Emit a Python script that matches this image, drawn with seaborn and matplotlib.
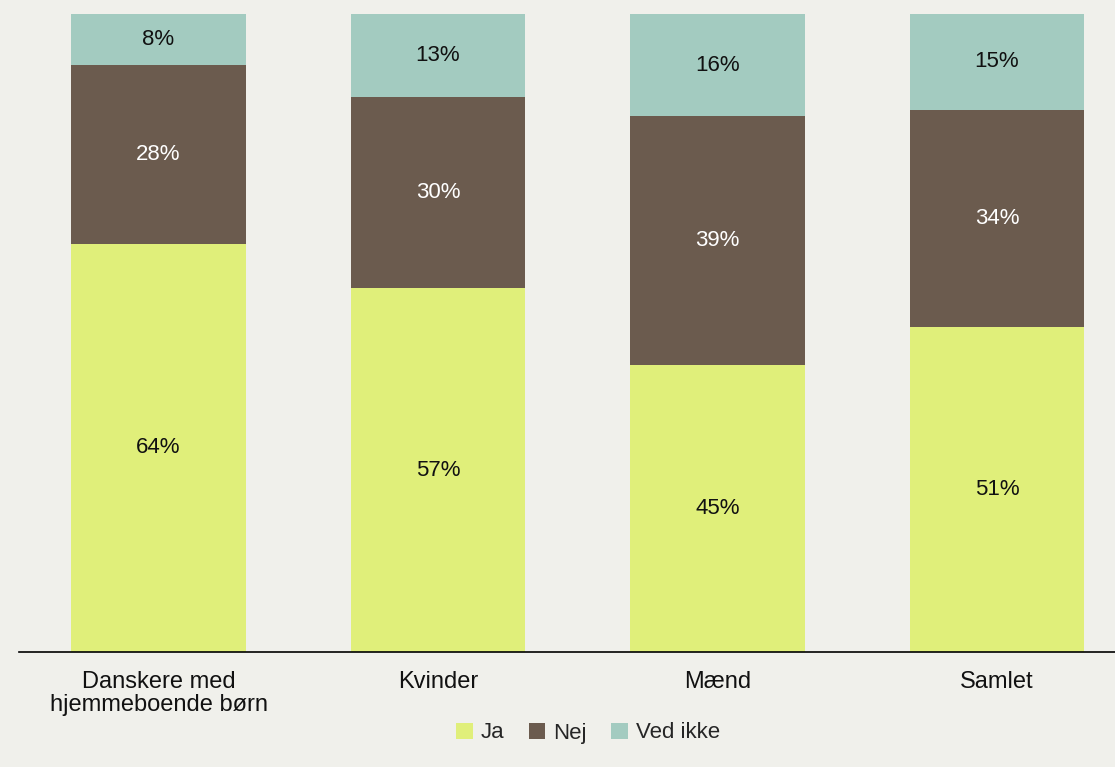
import matplotlib
matplotlib.use("Agg")
import matplotlib.pyplot as plt
from matplotlib.patches import Patch
import seaborn as sns
import numpy as np
import pandas as pd

categories = ["Danskere med\nhjemmeboende børn", "Kvinder", "Mænd", "Samlet"]
ja = [64, 57, 45, 51]
nej = [28, 30, 39, 34]
ved_ikke = [8, 13, 16, 15]
series_names = ["Ja", "Nej", "Ved ikke"]
colors = ["#E0EF7A", "#6B5B4E", "#A3CBC0"]
label_colors = ["#111111", "#FFFFFF", "#111111"]
bg = "#F0F0EB"

sns.set_theme(style="white")
plt.rcParams["font.family"] = ["Liberation Sans", "DejaVu Sans"]

fig = plt.figure(figsize=(11.15, 7.67), dpi=100, facecolor=bg)
ax = fig.add_axes([18.75 / 1115, 115 / 767, 1118 / 1115, (652 - 14) / 767])
ax.set_facecolor(bg)

ja_a = np.array(ja)
nej_a = np.array(nej)
vi_a = np.array(ved_ikke)
tops = [ja_a, ja_a + nej_a, ja_a + nej_a + vi_a]

# Draw cumulative totals from largest to smallest so they stack visually
for i in [2, 1, 0]:
    df = pd.DataFrame({"cat": categories, "val": tops[i]})
    sns.barplot(data=df, x="cat", y="val", color=colors[i], width=0.626,
                saturation=1, ax=ax, linewidth=0, order=categories)

series = [ja_a, nej_a, vi_a]
bottoms = [np.zeros(4), ja_a, ja_a + nej_a]
for i in range(3):
    for j in range(4):
        ax.text(j, bottoms[i][j] + series[i][j] / 2, f"{series[i][j]}%",
                ha="center", va="center", fontsize=16, color=label_colors[i])

ax.set_xlim(-0.5, 3.5)
ax.set_ylim(0, 100)
ax.set_yticks([])
ax.set_xlabel("")
ax.set_ylabel("")
for s in ["top", "right", "left"]:
    ax.spines[s].set_visible(False)
ax.spines["bottom"].set_color("black")
ax.spines["bottom"].set_linewidth(1.2)
ax.tick_params(axis="x", length=0, pad=14, labelsize=17, colors="#111111")
for t in ax.get_xticklabels():
    t.set_linespacing(1.05)

handles = [Patch(facecolor=c, edgecolor="none") for c in colors]
fig.legend(handles, series_names, loc="center", bbox_to_anchor=(588 / 1115, 1 - 733 / 767),
           ncol=3, frameon=False, fontsize=16, handlelength=0.75, handleheight=0.75,
           handletextpad=0.35, columnspacing=1.1)

fig.savefig("out.png", dpi=100, facecolor=bg)
